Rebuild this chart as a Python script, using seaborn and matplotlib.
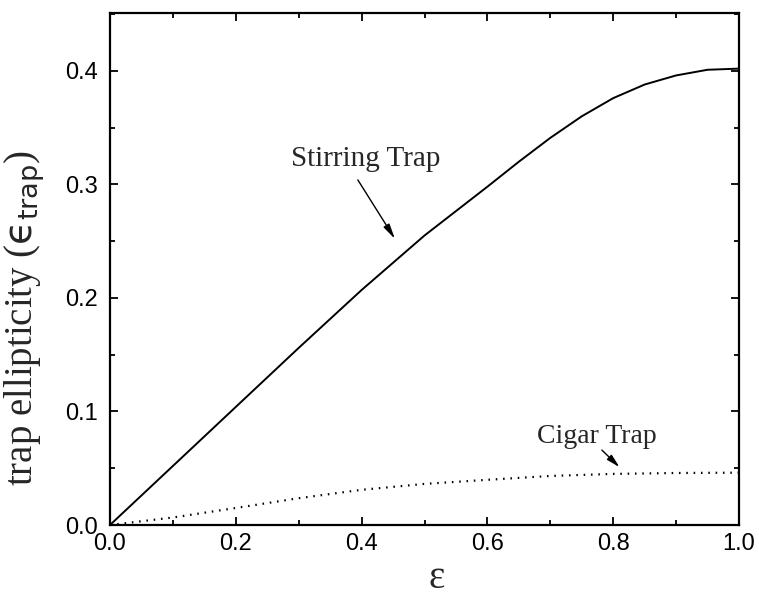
import matplotlib
matplotlib.use("Agg")
import matplotlib.pyplot as plt
from matplotlib.ticker import MultipleLocator
import seaborn as sns
import pandas as pd

# data
stir_eps = [0.0, 0.1, 0.2, 0.3, 0.4, 0.5, 0.6, 0.65, 0.7, 0.75, 0.8, 0.85, 0.9, 0.95, 1.0]
stir_val = [0.0, 0.052, 0.104, 0.156, 0.207, 0.255, 0.298, 0.320, 0.341, 0.360, 0.376, 0.388, 0.396, 0.401, 0.402]
cigar_eps = [0.0, 0.1, 0.2, 0.3, 0.4, 0.5, 0.6, 0.7, 0.8, 0.9, 1.0]
cigar_val = [0.0, 0.0066, 0.0150, 0.0236, 0.0310, 0.0362, 0.0398, 0.0432, 0.0450, 0.0458, 0.0461]
x_ticks = [0.0, 0.2, 0.4, 0.6, 0.8, 1.0]
y_ticks = [0.0, 0.1, 0.2, 0.3, 0.4]

sns.set_style("ticks")
plt.rcParams['font.family'] = ['Liberation Sans', 'DejaVu Sans']
plt.rcParams['mathtext.fontset'] = 'dejavusans'

fig = plt.figure(figsize=(7.59, 5.96), dpi=100)
ax = fig.add_axes([110/759, 1-525/596, 629/759, 512/596])

df_s = pd.DataFrame({"eps": stir_eps, "val": stir_val})
df_c = pd.DataFrame({"eps": cigar_eps, "val": cigar_val})
sns.lineplot(data=df_s, x="eps", y="val", ax=ax, color="black", linewidth=1.4)
sns.lineplot(data=df_c, x="eps", y="val", ax=ax, color="black", linewidth=1.6,
             linestyle=(0, (0.7, 2.6)))

ax.set_xlim(0, 1.0)
ax.set_ylim(0, 0.451)
ax.set_xticks(x_ticks)
ax.set_yticks(y_ticks)
ax.set_xticklabels([f"{v:.1f}" for v in x_ticks])
ax.set_yticklabels([f"{v:.1f}" for v in y_ticks])
ax.xaxis.set_minor_locator(MultipleLocator(0.1))
ax.yaxis.set_minor_locator(MultipleLocator(0.05))
ax.tick_params(which='both', direction='in', top=True, right=True, width=1.3, colors='black')
ax.tick_params(which='major', length=6, labelsize=17)
ax.tick_params(axis='x', which='major', pad=6)
ax.tick_params(axis='y', which='major', pad=9)
ax.tick_params(which='minor', length=3.5)
for s in ax.spines.values():
    s.set_linewidth(1.6)
    s.set_color('black')

ax.set_xlabel("ε", family='Liberation Serif', fontsize=28)
ax.xaxis.set_label_coords(0.52, -0.068)
ax.set_ylabel("trap ellipticity ($\\mathrm{ϵ}_{\\mathrm{trap}}$)", family='Liberation Serif',
              fontsize=28)
ax.yaxis.set_label_coords(-0.100, 0.405)

ax.text(0.407, 0.322, "Stirring Trap", ha='center', va='center',
        family='Liberation Serif', fontsize=21)
ax.annotate("", xy=(0.453, 0.252), xytext=(0.394, 0.304),
            arrowprops=dict(arrowstyle='-|>,head_length=0.9,head_width=0.2',
                            color='black', lw=1.0, shrinkA=0, shrinkB=0))
ax.text(0.774, 0.078, "Cigar Trap", ha='center', va='center',
        family='Liberation Serif', fontsize=20)
ax.annotate("", xy=(0.81, 0.051), xytext=(0.782, 0.066),
            arrowprops=dict(arrowstyle='-|>,head_length=0.8,head_width=0.2',
                            color='black', lw=1.0, shrinkA=0, shrinkB=0))

fig.savefig("out.png", dpi=100)
